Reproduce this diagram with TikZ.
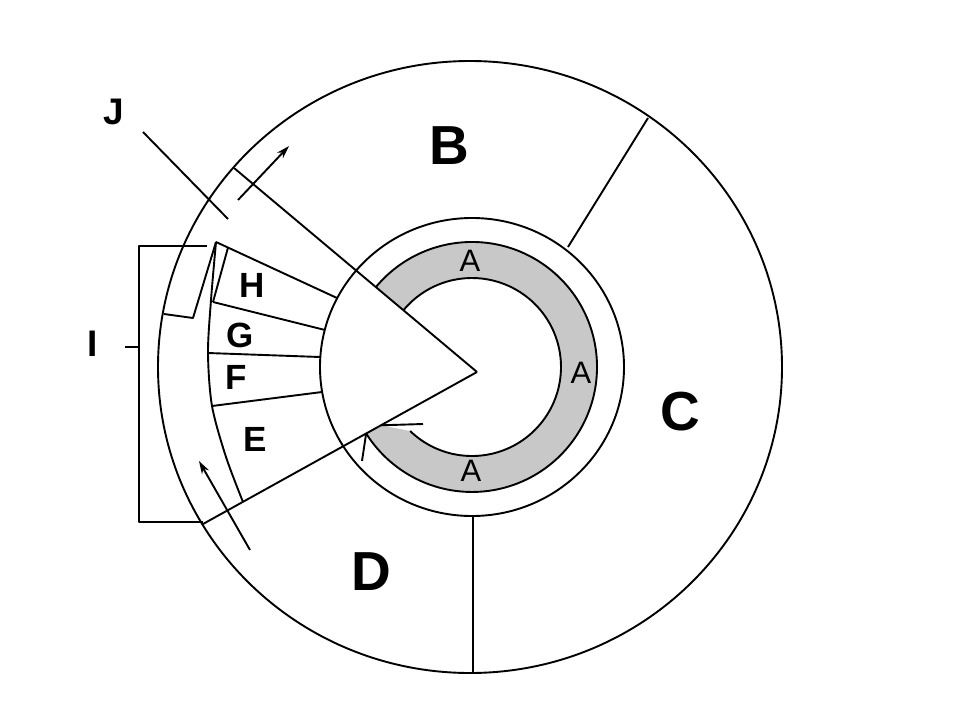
\documentclass[tikz,border=0pt]{standalone}
\usepackage{fontspec}
\setmainfont{Liberation Sans}
\usetikzlibrary{arrows.meta}
\definecolor{ringgrey}{RGB}{200,200,200}
\begin{document}
\begin{tikzpicture}[x=1pt,y=-1pt,line width=1.9pt,line join=round,
  big/.style={font=\fontsize{55}{55}\selectfont\bfseries,inner sep=0pt},
  mid/.style={font=\fontsize{35}{35}\selectfont\bfseries,inner sep=0pt},
  alab/.style={font=\fontsize{31}{31}\selectfont,inner sep=0pt},
  arr/.style={-{Stealth[length=13pt,width=8pt]}}]
\useasboundingbox[fill=white] (0,0) rectangle (958,712);

% key points
\coordinate (apex) at (477,372);
\coordinate (upEnd) at (234,168);
\coordinate (loEnd) at (203,524);
\coordinate (gOs) at (375.85,287.13);
\coordinate (gOe) at (366.14,433.51);
\coordinate (gT) at (381,425.3);
\coordinate (gIe) at (410.17,431.02);
\coordinate (gBo) at (362,461);
\coordinate (gBi) at (423,424);

% grey ring (arrow)
\fill[ringgrey] (gOs) arc[start angle=140.3,end angle=-147.86,radius=125pt]
  -- (gT) -- (gIe) arc[start angle=-134,end angle=140.4,radius=89pt] -- cycle;
\draw (gOs) arc[start angle=140.3,end angle=-147.86,radius=125pt];
\draw (gIe) arc[start angle=-134,end angle=140.4,radius=89pt];
\draw (gOe) -- (gBo);
\draw (gT) -- (gBi);

% circles
\draw (470,367) ellipse [x radius=312pt,y radius=306pt];
\draw (472,367) ellipse [x radius=152pt,y radius=149pt];

% wedge lines
\draw (apex) -- (upEnd);
\draw (apex) -- (loEnd);

% sector dividers
\coordinate (bc1) at (568,247); \coordinate (bc2) at (648,118);
\coordinate (cd1) at (473,516); \coordinate (cd2) at (473,673);
\draw (bc1) -- (bc2);
\draw (cd1) -- (cd2);

% band H G F E
\coordinate (P0) at (216,242);
\coordinate (hT) at (337,298);
\coordinate (s1) at (228,247.6);
\coordinate (s2) at (213,302);
\coordinate (hG) at (325,330);
\coordinate (g1) at (208,353); \coordinate (g2) at (320,357);
\coordinate (f1) at (212,406); \coordinate (f2) at (322,392);
\coordinate (bEnd) at (243,502);
\draw (P0) -- (hT);
\draw (s1) -- (s2);
\draw (s2) -- (hG);
\draw (g1) -- (g2);
\draw (f1) -- (f2);
\draw plot[smooth] coordinates {(P0) (211,300) (g1) (f1) (226,457) (bEnd)};

% small piece between band and outer circle
\coordinate (q1) at (193,318); \coordinate (q2) at (164,314);
\draw (P0) -- (q1) -- (q2);

% arrows along the rim
\coordinate (ua1) at (238,200); \coordinate (ua2) at (289,146);
\coordinate (la1) at (250,550); \coordinate (la2) at (199,461);
\draw[arr] (ua1) -- (ua2);
\draw[arr] (la1) -- (la2);

% J pointer
\coordinate (j1) at (143,132); \coordinate (j2) at (228,219);
\draw (j1) -- (j2);

% bracket I
\coordinate (brT) at (207,246); \coordinate (brB) at (203,522);
\coordinate (brTL) at (139,246); \coordinate (brBL) at (139,522);
\coordinate (tk1) at (125,347); \coordinate (tk2) at (139,347);
\draw (brT) -- (brTL) -- (brBL) -- (brB);
\draw (tk1) -- (tk2);

% labels
\node[big] (lB) at (449,146) {B};
\node[big] (lC) at (680,412) {C};
\node[big] (lD) at (371,572) {D};
\node[alab] (lA1) at (470,261) {A};
\node[alab] (lA2) at (581,373) {A};
\node[alab] (lA3) at (471,471) {A};
\node[mid] (lH) at (252.5,285.5) {H};
\node[mid] (lG) at (240,335) {G};
\node[mid] (lF) at (236,377.5) {F};
\node[mid] (lE) at (255,439.5) {E};
\node[mid,font=\fontsize{37}{37}\selectfont\bfseries] (lI) at (93,344) {I};
\node[mid,font=\fontsize{37}{37}\selectfont\bfseries] (lJ) at (114,112) {J};
\end{tikzpicture}
\end{document}
